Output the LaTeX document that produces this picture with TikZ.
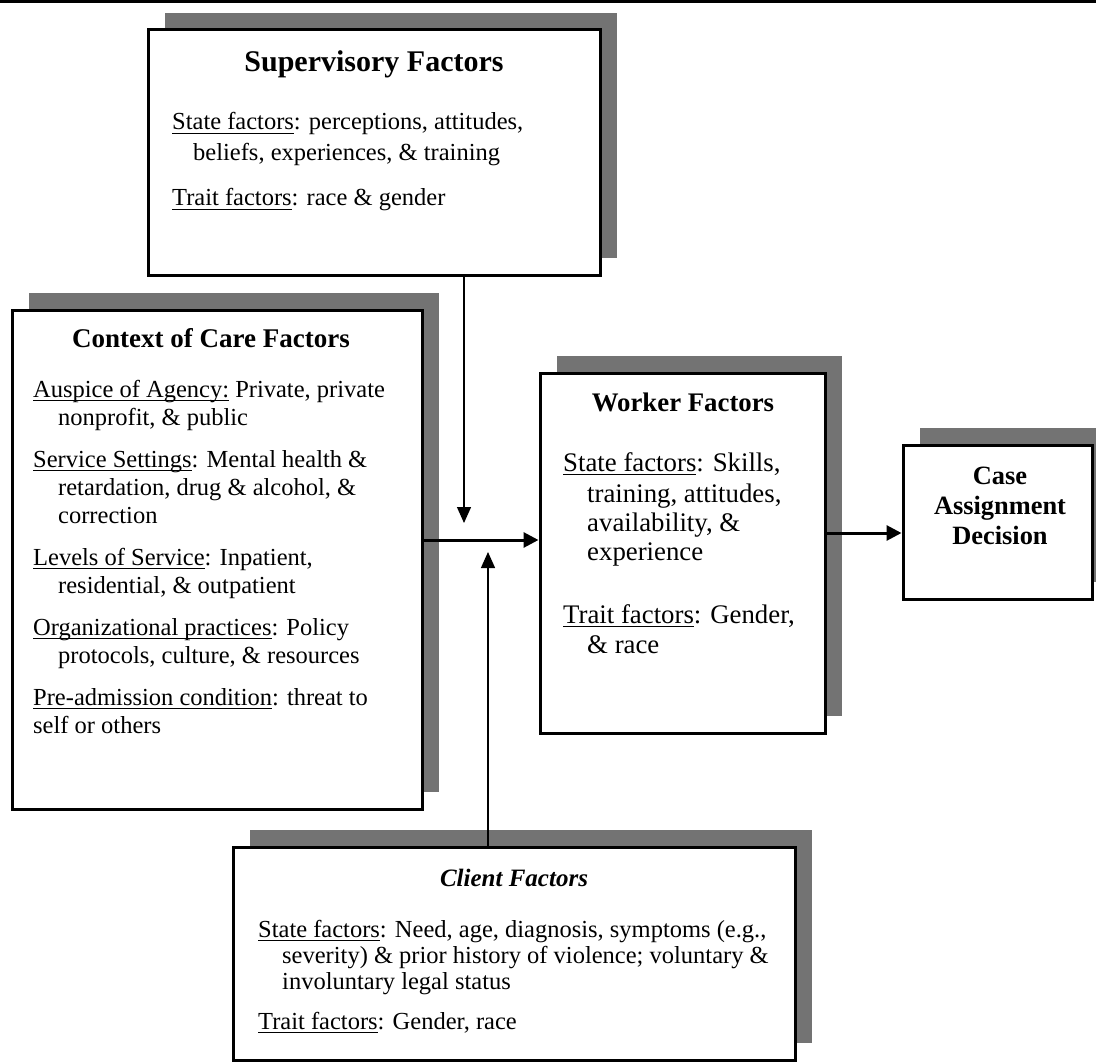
\documentclass[tikz,border=0pt]{standalone}
\usepackage{fontspec}
\setmainfont{Liberation Serif}
\usetikzlibrary{arrows.meta,shadows}
\newcommand\bodyfont{\fontsize{24.5}{28}\selectfont}
\newcommand\wbodyfont{\fontsize{26.8}{30}\selectfont}
\newsavebox\undlbox
\newcommand\undl[1]{\sbox\undlbox{#1}\rlap{\rule[-4.2pt]{\wd\undlbox}{1.1pt}}\usebox\undlbox}
\begin{document}
\begin{tikzpicture}[x=1pt,y=-1pt,
  box/.style={draw, line width=3pt, fill=white, rectangle, inner sep=0pt,
    drop shadow={shadow xshift=17pt, shadow yshift=17pt, fill=black!55, opacity=1}},
  ln/.style={anchor=base west, inner sep=0pt, font=\bodyfont},
  wln/.style={anchor=base west, inner sep=0pt, font=\wbodyfont},
  ttl/.style={anchor=base, inner sep=0pt, font=\bfseries\fontsize{27}{30}\selectfont},
  thickarrow/.style={line width=3pt, -{Triangle[length=15pt,width=15pt]}},
  thinarrow/.style={line width=1.3pt, -{Triangle[length=16pt,width=14pt]}}
]
\useasboundingbox (0,0) rectangle (1096,1062);
% top rule
\coordinate (tl) at (0,1.5);
\coordinate (tr) at (1096,1.5);
\draw[line width=2.5pt] (tl) -- (tr);

% boxes
\node[box, minimum width=452pt, minimum height=245pt] (sup) at (374,152.5) {};
\node[box, minimum width=410pt, minimum height=499pt] (ctx) at (217,559.5) {};
\node[box, minimum width=285pt, minimum height=360pt] (wrk) at (682.5,553) {};
\node[box, minimum width=189pt, minimum height=154pt] (case) at (997.5,522) {};
\node[box, minimum width=562pt, minimum height=213pt] (cli) at (514,953.5) {};

% Supervisory
\node[ttl, font=\bfseries\fontsize{30}{34}\selectfont] (supt) at (374,72) {Supervisory Factors};
\node[ln] (sup1) at (172,130) {\undl{State factors}: perceptions, attitudes,};
\node[ln] (sup2) at (193,161) {beliefs, experiences, \& training};
\node[ln] (sup3) at (172,206) {\undl{Trait factors}: race \& gender};

% Context
\node[ttl] (ctxt) at (211,347) {Context of Care Factors};
\node[ln] (c1) at (33,397) {\undl{Auspice of Agency:} Private, private};
\node[ln] (c2) at (58,425) {nonprofit, \& public};
\node[ln] (c3) at (33,467) {\undl{Service Settings}: Mental health \&};
\node[ln] (c4) at (58,495) {retardation, drug \& alcohol, \&};
\node[ln] (c5) at (58,523) {correction};
\node[ln] (c6) at (33,565) {\undl{Levels of Service}: Inpatient,};
\node[ln] (c7) at (58,593) {residential, \& outpatient};
\node[ln] (c8) at (33,635) {\undl{Organizational practices}: Policy};
\node[ln] (c9) at (58,663) {protocols, culture, \& resources};
\node[ln] (c10) at (33,705) {\undl{Pre-admission condition}: threat to};
\node[ln] (c11) at (33,733) {self or others};

% Worker
\node[ttl, font=\bfseries\fontsize{26.8}{30}\selectfont] (wrkt) at (683,411) {Worker Factors};
\node[wln] (w1) at (563,471) {\undl{State factors}: Skills,};
\node[wln] (w2) at (587,502) {training, attitudes,};
\node[wln] (w3) at (587,531) {availability, \&};
\node[wln] (w4) at (587,560) {experience};
\node[wln] (w5) at (563,623) {\undl{Trait factors}: Gender,};
\node[wln] (w6) at (587,653) {\& race};

% Case
\node[ttl, font=\bfseries\fontsize{26.4}{30}\selectfont] (ca1) at (1000,484) {Case};
\node[ttl, font=\bfseries\fontsize{26.4}{30}\selectfont] (ca2) at (1000,514) {Assignment};
\node[ttl, font=\bfseries\fontsize{26.4}{30}\selectfont] (ca3) at (1000,544) {Decision};

% Client
\node[ttl, font=\bfseries\itshape\fontsize{25}{30}\selectfont] (clit) at (514,886) {Client Factors};
\node[ln] (k1) at (258,937) {\undl{State factors}: Need, age, diagnosis, symptoms (e.g.,};
\node[ln] (k2) at (282,963) {severity) \& prior history of violence; voluntary \&};
\node[ln] (k3) at (282,989) {involuntary legal status};
\node[ln] (k4) at (258,1029) {\undl{Trait factors}: Gender, race};

% connectors
\coordinate (jn) at (0,540);
\coordinate (jn2) at (0,533);
\coordinate (dtip) at (464,523);
\coordinate (utip) at (488,552);
\draw[thickarrow] (ctx.east |- jn) -- (wrk.west |- jn);
\draw[thickarrow] (wrk.east |- jn2) -- (case.west |- jn2);
\draw[thinarrow] (sup.south -| dtip) -- (dtip);
\draw[thinarrow] (cli.north -| utip) -- (utip);
\end{tikzpicture}
\end{document}
